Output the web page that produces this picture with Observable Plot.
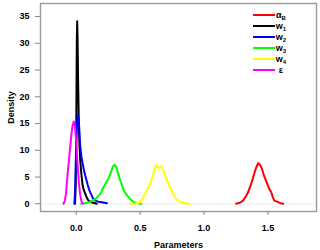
<!DOCTYPE html>
<html>
<head>
<meta charset="utf-8">
<script src="https://cdn.jsdelivr.net/npm/d3@7"></script>
<script src="https://cdn.jsdelivr.net/npm/@observablehq/plot@0.6"></script>
<style>
  html, body { margin: 0; padding: 0; background: #fff; }
</style>
</head>
<body>
<div id="chart"></div>
<script>
// ---- data ----
const seriesKeys = ["alphaB", "w1", "w2", "w3", "w4", "eps"];
const legendBase = ["α", "w", "w", "w", "w", "ε"];
const legendSub = ["B", "1", "2", "3", "4", ""];
const seriesColors = ["#FF0000", "#000000", "#0000FF", "#00FF00", "#FFFF00", "#FF00FF"];

const alphaB_x = [1.25, 1.28, 1.305, 1.33, 1.345, 1.37, 1.385, 1.405, 1.424, 1.44, 1.45, 1.47, 1.49, 1.51, 1.525, 1.54, 1.55, 1.58, 1.6, 1.62];
const alphaB_y = [0, 0.2, 0.6, 1.5, 2.2, 3.8, 5.0, 6.6, 7.6, 7.2, 6.8, 5.2, 4.0, 2.8, 2.2, 1.1, 0.6, 0.3, 0.1, 0];

const w1_x = [-0.01, -0.005, 0, 0.004, 0.007, 0.01, 0.015, 0.02, 0.025, 0.03, 0.035, 0.04, 0.05, 0.06, 0.07, 0.08, 0.09, 0.1, 0.12, 0.14, 0.16];
const w1_y = [0, 3, 15, 30, 34.1, 31, 22, 15, 11, 8.5, 7, 5.5, 3.4, 2.5, 1.9, 1.3, 0.8, 0.5, 0.3, 0.15, 0];

const w2_x = [-0.015, -0.01, -0.005, 0, 0.005, 0.013, 0.02, 0.03, 0.04, 0.05, 0.06, 0.07, 0.08, 0.09, 0.1, 0.11, 0.12, 0.13, 0.15, 0.17, 0.2, 0.22, 0.24];
const w2_y = [0, 2, 6, 11, 14.5, 16.8, 15.5, 11, 8.8, 7.5, 6.3, 5.3, 4.4, 3.5, 2.7, 2.1, 1.6, 1.0, 0.6, 0.4, 0.3, 0.2, 0.1];

const w3_x = [0.04, 0.09, 0.13, 0.16, 0.19, 0.21, 0.23, 0.25, 0.27, 0.285, 0.3, 0.315, 0.33, 0.345, 0.37, 0.39, 0.41, 0.43, 0.45, 0.48, 0.51];
const w3_y = [0, 0.2, 0.6, 1.1, 1.9, 3.0, 3.8, 4.6, 5.8, 6.9, 7.3, 6.8, 5.4, 4.3, 2.6, 1.8, 1.2, 0.7, 0.3, 0.1, 0];

const w4_x = [0.42, 0.46, 0.5, 0.52, 0.54, 0.56, 0.58, 0.6, 0.615, 0.625, 0.635, 0.645, 0.655, 0.665, 0.68, 0.695, 0.71, 0.735, 0.76, 0.775, 0.8, 0.83, 0.86, 0.89];
const w4_y = [0, 0.05, 0.3, 1.0, 1.9, 2.8, 3.8, 5.3, 6.6, 7.2, 7.0, 6.7, 6.9, 7.0, 6.3, 5.3, 4.3, 3.0, 1.8, 1.1, 0.5, 0.2, 0.05, 0];

const eps_x = [-0.1, -0.09, -0.08, -0.07, -0.06, -0.05, -0.04, -0.03, -0.02, -0.01, 0.0, 0.01, 0.02, 0.03, 0.04, 0.05];
const eps_y = [0, 0.5, 2, 5, 7.5, 10, 12.5, 14.5, 15.4, 14.5, 11.5, 7.5, 4, 1.8, 0.5, 0];

const xTicks = [0, 0.5, 1.0, 1.5];
const yTicks = [0, 5, 10, 15, 20, 25, 30, 35];

// ---- build table ----
const seriesX = {alphaB: alphaB_x, w1: w1_x, w2: w2_x, w3: w3_x, w4: w4_x, eps: eps_x};
const seriesY = {alphaB: alphaB_y, w1: w1_y, w2: w2_y, w3: w3_y, w4: w4_y, eps: eps_y};
const rows = [];
seriesKeys.forEach(k => seriesX[k].forEach((x, i) => rows.push({series: k, x, y: seriesY[k][i]})));

const plot = Plot.plot({
  width: 320,
  height: 250,
  marginLeft: 40,
  marginRight: 4,
  marginTop: 3,
  marginBottom: 39,
  style: {fontFamily: "'Liberation Sans', Arial, sans-serif", fontSize: "9px", fontWeight: "bold", background: "#fff"},
  x: {domain: [-0.28, 1.88]},
  y: {domain: [-1.44, 37.44]},
  color: {domain: seriesKeys, range: seriesColors},
  marks: [
    Plot.ruleY([0], {stroke: "#eeeeee", strokeWidth: 1}),
    Plot.line(rows, {x: "x", y: "y", z: "series", stroke: "series", strokeWidth: 2, strokeLinejoin: "round"}),
    Plot.frame({stroke: "#999999", strokeWidth: 1.4}),
    Plot.axisX({ticks: xTicks, tickFormat: d3.format(".1f"), tickSize: 4, stroke: "#888", fill: "black", tickPadding: 9,
      label: "Parameters", labelAnchor: "center", labelArrow: "none", labelOffset: 36}),
    Plot.axisY({ticks: yTicks, tickSize: 5, stroke: "#888", fill: "black", tickPadding: 6,
      label: "Density", labelAnchor: "center", labelArrow: "none", labelOffset: 33})
  ]
});

// ---- legend ----
const svg = d3.select(plot);
const lg = svg.append("g").attr("class", "legend");
seriesKeys.forEach((k, i) => {
  const yy = 15 + i * 11;
  lg.append("line").attr("x1", 253).attr("x2", 275).attr("y1", yy).attr("y2", yy)
    .attr("stroke", seriesColors[i]).attr("stroke-width", 2);
  const t = lg.append("text").attr("x", 281).attr("y", yy).attr("dy", "0.32em")
    .attr("font-size", 9).attr("font-weight", "bold").attr("fill", "black");
  t.append("tspan").text(legendBase[i]);
  if (legendSub[i]) t.append("tspan").attr("font-size", 6).attr("dy", "0.35em").text(legendSub[i]);
});

document.getElementById("chart").appendChild(plot);
</script>
</body>
</html>
